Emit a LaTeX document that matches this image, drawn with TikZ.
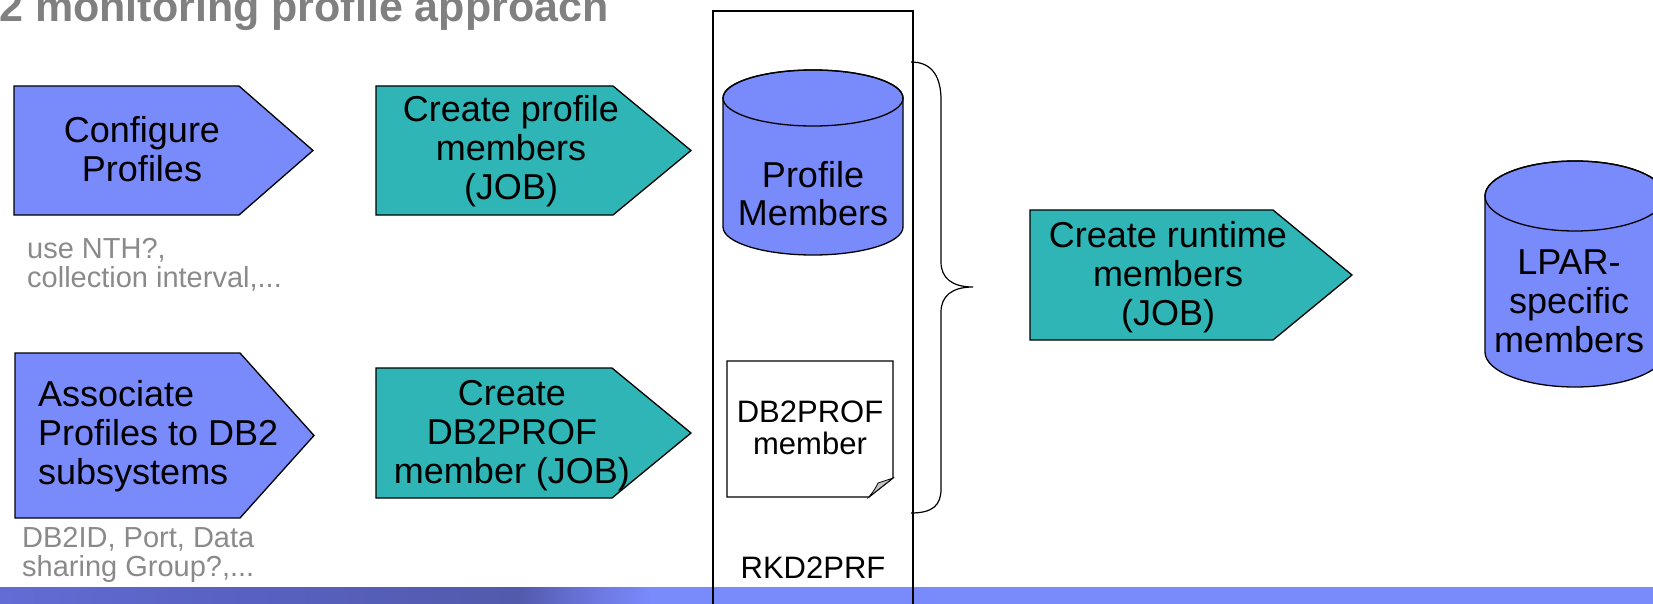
\documentclass[tikz,border=0pt]{standalone}
\usepackage{fontspec}
\setmainfont{Liberation Sans}
\definecolor{shapeblue}{RGB}{121,138,250}
\definecolor{shapeteal}{RGB}{47,181,181}
\definecolor{titlegray}{RGB}{128,128,128}
\definecolor{notegray}{RGB}{138,138,138}
\definecolor{foldgray}{RGB}{195,195,195}
\definecolor{bandA}{RGB}{98,108,212}
\definecolor{bandB}{RGB}{88,97,192}
\definecolor{bandC}{RGB}{82,90,172}
\definecolor{bandD}{RGB}{110,122,228}
\pgfdeclarehorizontalshading{bandshade}{100bp}{color(0bp)=(bandA); color(25bp)=(bandA); color(32.5bp)=(bandB); color(40.7bp)=(bandC); color(43.2bp)=(bandD); color(44.7bp)=(shapeblue); color(100bp)=(shapeblue)}
\begin{document}
\begin{tikzpicture}[x=1pt,y=-1pt,
  outl/.style={draw=black,line width=1.3pt,line join=miter},
  bluebox/.style={outl,fill=shapeblue},
  tealbox/.style={outl,fill=shapeteal},
  txt/.style={inner sep=0pt,anchor=base,font=\fontsize{36}{39}\selectfont},
  smalltxt/.style={inner sep=0pt,anchor=base,font=\fontsize{31}{32}\selectfont},
  note/.style={inner sep=0pt,anchor=base west,text=notegray,font=\fontsize{29}{29.5}\selectfont}]
\useasboundingbox (0,0) rectangle (1653,604);
% bottom band
\shade[shading=bandshade] (0,587) rectangle (1653,604);
% title
\node[inner sep=0pt,anchor=base west,text=titlegray,font=\fontsize{43}{43}\selectfont\bfseries] (title) at (-1,22) {2 monitoring profile approach};
% pentagon arrows
\draw[bluebox] (14,86) -- (239,86) -- (313,150.5) -- (239,215) -- (14,215) -- cycle;
\draw[tealbox] (376,86) -- (613,86) -- (691,150.5) -- (613,215) -- (376,215) -- cycle;
\draw[bluebox] (15,353) -- (240,353) -- (314,435.5) -- (240,518) -- (15,518) -- cycle;
\draw[tealbox] (376,368) -- (612,368) -- (691,433) -- (612,498) -- (376,498) -- cycle;
\draw[tealbox] (1030,210) -- (1273,210) -- (1352,275) -- (1273,340) -- (1030,340) -- cycle;
% RKD2PRF column
\draw[line width=1.2pt] (713,615) -- (713,11) -- (913,11) -- (913,615);
% Profile Members cylinder
\draw[bluebox] (723,98) -- (723,227) arc[start angle=180,end angle=360,x radius=90pt,y radius=28pt] -- (903,98) arc[start angle=0,end angle=180,x radius=90pt,y radius=28pt] -- cycle;
\draw[outl] (813,98) ellipse [x radius=90pt,y radius=28pt];
% LPAR cylinder
\draw[bluebox] (1485,196) -- (1485,352) arc[start angle=180,end angle=360,x radius=90pt,y radius=35pt] -- (1665,196) arc[start angle=0,end angle=180,x radius=90pt,y radius=35pt] -- cycle;
\draw[outl] (1575,196) ellipse [x radius=90pt,y radius=35pt];
% DB2PROF document
\draw[line width=1.2pt,fill=white,line join=miter] (727,361) -- (893,361) -- (893,478) -- (869,497) -- (727,497) -- cycle;
\draw[line width=0.8pt,fill=foldgray] (893,478) .. controls (886,480) .. (878,483) .. controls (875,489) .. (869,497) -- cycle;
% brace
\draw[line width=1.2pt] (911,62) .. controls (933,62) and (941,78) .. (941,100) -- (941,262) .. controls (941,278) and (952,287) .. (973,287) .. controls (952,287) and (941,296) .. (941,312) -- (941,489) .. controls (941,505) and (933,513) .. (911,513);
% texts
\node[txt] (cfg) at (142,143) {\begin{tabular}[t]{@{}c@{}}Configure\\Profiles\end{tabular}};
\node[txt] (cpm) at (511,122) {\begin{tabular}[t]{@{}c@{}}Create profile\\members\\(JOB)\end{tabular}};
\node[txt,anchor=base west] (assoc) at (38,406) {\begin{tabular}[t]{@{}l@{}}Associate\\Profiles to DB2\\subsystems\end{tabular}};
\node[txt] (cdb) at (512,405) {\begin{tabular}[t]{@{}c@{}}Create\\DB2PROF\\member (JOB)\end{tabular}};
\node[txt] (crm) at (1168,247) {\begin{tabular}[t]{@{}c@{}}Create runtime\\members\\(JOB)\end{tabular}};
\node[txt] (pm) at (813,187) {\begin{tabular}[t]{@{}c@{}}Profile\\Members\end{tabular}};
\node[txt] (lpar) at (1569,274) {\begin{tabular}[t]{@{}c@{}}LPAR-\\specific\\members\end{tabular}};
\node[smalltxt] (doc) at (810,422) {\begin{tabular}[t]{@{}c@{}}DB2PROF\\member\end{tabular}};
\node[smalltxt] (rkd) at (813,578) {RKD2PRF};
\node[note] (note1) at (27,258) {\begin{tabular}[t]{@{}l@{}}use NTH?,\\collection interval,...\end{tabular}};
\node[note] (note2) at (22,547) {\begin{tabular}[t]{@{}l@{}}DB2ID, Port, Data\\sharing Group?,...\end{tabular}};
\end{tikzpicture}
\end{document}
